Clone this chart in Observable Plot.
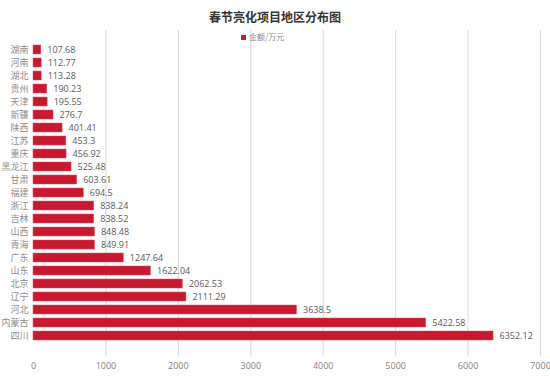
<!DOCTYPE html>
<html><head><meta charset="utf-8">
<script src="https://cdn.jsdelivr.net/npm/d3@7"></script>
<script src="https://cdn.jsdelivr.net/npm/@observablehq/plot@0.6"></script>
<style>
html,body{margin:0;padding:0;background:#fff;}
#wrap{position:relative;width:550px;height:376px;font-family:"Open Sans","Noto Sans CJK SC",sans-serif;}
#title{position:absolute;left:0;width:550px;top:9px;text-align:center;font-size:12px;font-weight:bold;color:#333;font-family:"Noto Sans CJK SC",sans-serif;line-height:16px;}
#legend{position:absolute;left:241px;top:31px;font-size:8px;line-height:12px;color:#8c8c8c;font-family:"Noto Sans CJK SC",sans-serif;display:flex;align-items:center;}
#legend span.sw{display:inline-block;width:5px;height:5px;background:#c8192e;margin-right:3px;}
svg{position:absolute;left:0;top:0;}
</style>
</head><body>
<div id="wrap"></div>
<script>
const regions = ["湖南","河南","湖北","贵州","天津","新疆","陕西","江苏","重庆","黑龙江","甘肃","福建","浙江","吉林","山西","青海","广东","山东","北京","辽宁","河北","内蒙古","四川"];
const amounts = [107.68,112.77,113.28,190.23,195.55,276.7,401.41,453.3,456.92,525.48,603.61,694.5,838.24,838.52,848.48,849.91,1247.64,1622.04,2062.53,2111.29,3638.5,5422.58,6352.12];
const xTicks = [0,1000,2000,3000,4000,5000,6000,7000];
const titleText = "春节亮化项目地区分布图";
const legendText = "金额/万元";

const data = regions.map((r,i)=>({region:r, value:amounts[i]}));

const chart = Plot.plot({
  width: 550,
  height: 376,
  marginLeft: 33,
  marginRight: 10,
  marginTop: 30,
  marginBottom: 20,
  style: {fontFamily: '"Open Sans","Noto Sans CJK SC",sans-serif', fontSize: "9px", background: "transparent"},
  x: {domain: [0,7000]},
  y: {domain: regions, padding: 0.3},
  marks: [
    Plot.gridX(xTicks.slice(1), {stroke: "#d9d9d9", strokeOpacity: 1}),
    Plot.axisX(xTicks, {tickSize: 0, tickPadding: 6, fill: "#7f7f7f", fontSize: 9, label: null, tickFormat: d => String(d)}),
    Plot.axisY({tickSize: 0, tickPadding: 5, fill: "#8c8c8c", fontSize: 9, label: null, fontFamily: '"Noto Sans CJK SC",sans-serif'}),
    Plot.barX(data, {x: "value", y: "region", fill: "#c8192e", stroke: "#e0566a", strokeWidth: 0.5}),
    Plot.text(data, {x: "value", y: "region", text: d => String(d.value), textAnchor: "start", dx: 6, fill: "#595959", fontSize: 9})
  ]
});

const wrap = document.getElementById("wrap");
wrap.appendChild(chart);
const t = document.createElement("div"); t.id = "title"; t.textContent = titleText; wrap.appendChild(t);
const lg = document.createElement("div"); lg.id = "legend";
const sw = document.createElement("span"); sw.className = "sw"; lg.appendChild(sw);
const lt = document.createElement("span"); lt.textContent = legendText; lg.appendChild(lt);
wrap.appendChild(lg);
</script>
</body></html>
